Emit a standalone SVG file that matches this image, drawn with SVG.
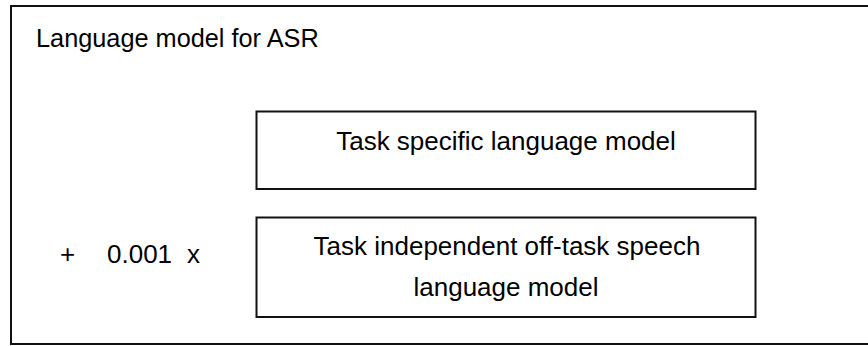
<svg xmlns="http://www.w3.org/2000/svg" width="868" height="346" viewBox="0 0 868 346">
<style>
.box{fill:#fff;stroke:#111;stroke-width:2}
.t{font-family:"Liberation Sans",Arial,sans-serif;font-size:26px;fill:#000}
.c{text-anchor:middle}
</style>
<rect width="868" height="346" fill="#fff"/>
<g id="outer">
<rect class="box" x="11" y="6" width="870" height="338"/>
<text class="t" x="36" y="47" style="font-size:25.3px">Language model for ASR</text>
</g>
<g id="task-specific">
<rect class="box" x="256.5" y="111.5" width="499" height="77.5"/>
<text class="t c" x="506" y="150">Task specific language model</text>
</g>
<g id="task-independent">
<rect class="box" x="256.5" y="217.5" width="499" height="99.5"/>
<text class="t c" x="507" y="255">Task independent off-task speech</text>
<text class="t c" x="506" y="296">language model</text>
</g>
<g id="weight">
<text class="t" x="60" y="263">+</text>
<text class="t" x="107" y="263">0.001</text>
<text class="t" x="187" y="263">x</text>
</g>
<g id="connectors"/>
</svg>
